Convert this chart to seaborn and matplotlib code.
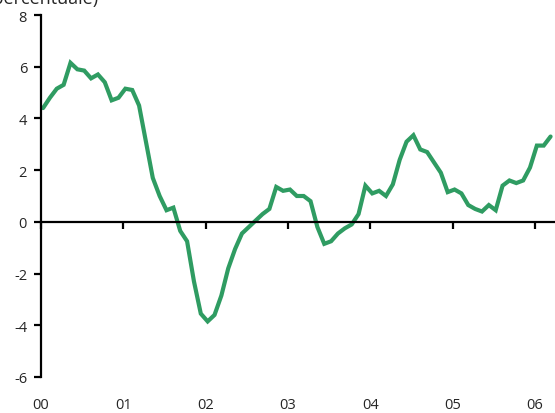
import matplotlib
matplotlib.use("Agg")
import matplotlib.pyplot as plt
import seaborn as sns
import numpy as np
import pandas as pd

values = [4.4, 4.8, 5.15, 5.3, 6.15, 5.9, 5.85, 5.55, 5.7, 5.4, 4.7, 4.8,
          5.15, 5.1, 4.5, 3.1, 1.7, 1.0, 0.45, 0.55, -0.35, -0.75, -2.3, -3.55,
          -3.85, -3.6, -2.85, -1.8, -1.05, -0.45, -0.2, 0.05, 0.3, 0.5, 1.35, 1.2,
          1.25, 1.0, 1.0, 0.8, -0.2, -0.85, -0.75, -0.45, -0.25, -0.1, 0.3, 1.4,
          1.1, 1.2, 1.0, 1.45, 2.4, 3.1, 3.35, 2.8, 2.7, 2.3, 1.9, 1.15,
          1.25, 1.1, 0.65, 0.5, 0.4, 0.65, 0.45, 1.4, 1.6, 1.5, 1.6, 2.1,
          2.95, 2.95, 3.3]
start_year = 2000
year_labels = ["00", "01", "02", "03", "04", "05", "06"]
y_ticks = [-6, -4, -2, 0, 2, 4, 6, 8]
unit_text = "(in percentuale)"

months = np.arange(len(values))
df = pd.DataFrame({"t": start_year + (months + 0.3) / 12.0, "v": values})

sns.set_theme(style="white")
plt.rcParams["font.family"] = ["Open Sans", "DejaVu Sans"]

fig = plt.figure(figsize=(5.55, 4.14), dpi=100)
ax = fig.add_axes([41 / 555, 1 - 378 / 414, 1 - 41 / 555, (378 - 16) / 414])

sns.lineplot(data=df, x="t", y="v", ax=ax, color="#2f9c62", linewidth=3.0,
             solid_joinstyle="miter")

ax.set_xlim(start_year, start_year + 514 / 82.3)
ax.set_ylim(-6, 8)
ax.set_xlabel("")
ax.set_ylabel("")

for s in ["top", "right"]:
    ax.spines[s].set_visible(False)
ax.spines["left"].set_color("black")
ax.spines["left"].set_linewidth(1.6)
ax.spines["bottom"].set_position(("data", 0))
ax.spines["bottom"].set_color("black")
ax.spines["bottom"].set_linewidth(1.6)
ax.set_zorder(1)

years = [start_year + i for i in range(len(year_labels))]
ax.set_xticks(years)
ax.set_xticklabels([])
ax.tick_params(axis="x", direction="out", length=5, width=1.6, color="black",
               bottom=True)
ax.set_yticks(y_ticks)
ax.set_yticklabels([str(t) for t in y_ticks])
ax.tick_params(axis="y", direction="out", length=5, width=1.6, color="black",
               labelsize=10.5, pad=5, left=True)

sec = ax.secondary_xaxis(-0.055)
sec.set_xticks(years)
sec.set_xticklabels(year_labels)
sec.tick_params(length=0, labelsize=10.5, pad=0)
sec.spines["bottom"].set_visible(False)

fig.text(98 / 555, 1 - 4 / 414, unit_text, ha="right", va="baseline",
         fontsize=13)

fig.savefig("out.png", dpi=100)
